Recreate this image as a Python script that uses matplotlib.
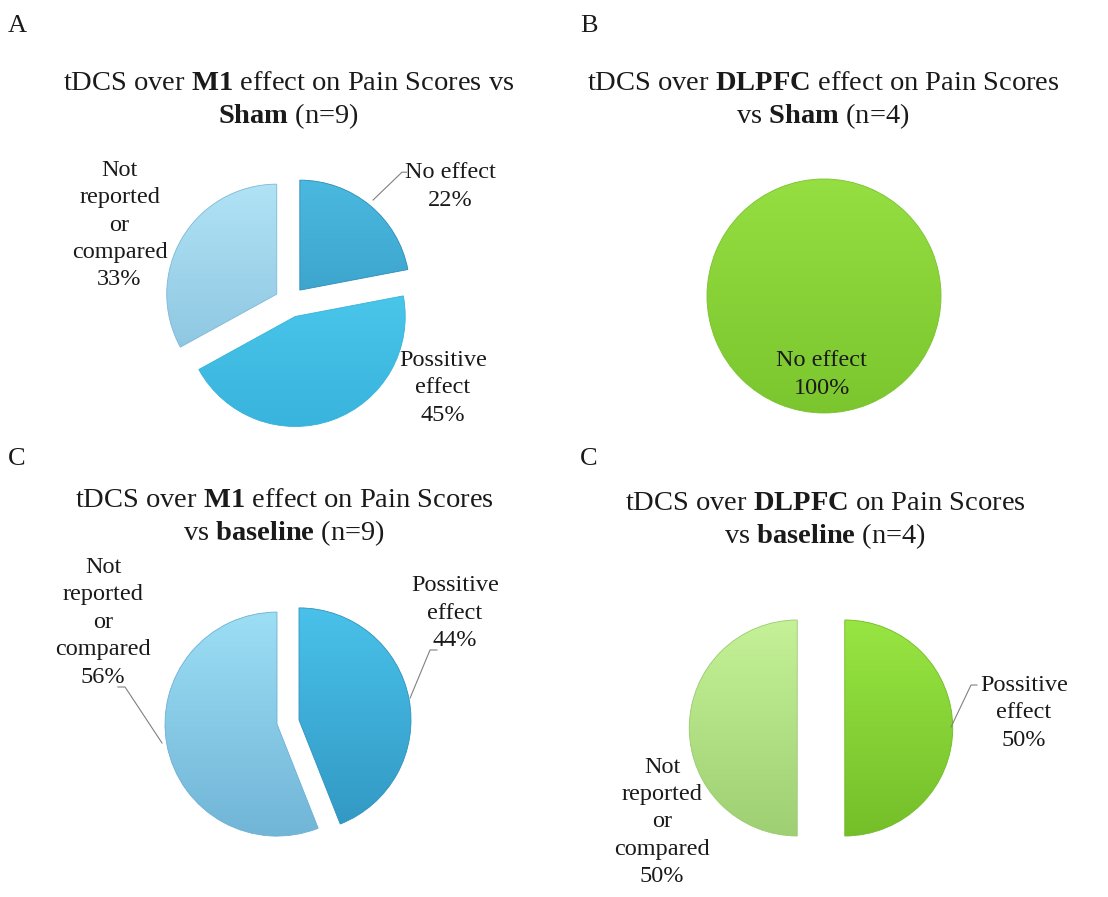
import numpy as np
import matplotlib
matplotlib.use("Agg")
import matplotlib.pyplot as plt
from matplotlib.colors import to_rgb

plt.rcParams["font.family"] = ["Liberation Serif", "DejaVu Serif"]
plt.rcParams["mathtext.fontset"] = "custom"
plt.rcParams["mathtext.rm"] = "Liberation Serif"
plt.rcParams["mathtext.bf"] = "Liberation Serif:bold"

# Data
names_a = ["No effect", "Possitive\neffect", "Not\nreported\nor\ncompared"]
values_a = [22, 45, 33]
names_b = ["No effect"]
values_b = [100]
names_c = ["Possitive\neffect", "Not\nreported\nor\ncompared"]
values_c = [44, 56]
names_d = ["Possitive\neffect", "Not\nreported\nor\ncompared"]
values_d = [50, 50]

titles = [
    r"tDCS over $\mathbf{M1}$ effect on Pain Scores vs" + "\n" + r"$\mathbf{Sham}$ (n=9)",
    r"tDCS over $\mathbf{DLPFC}$ effect on Pain Scores" + "\n" + r"vs $\mathbf{Sham}$ (n=4)",
    r"tDCS over $\mathbf{M1}$ effect on Pain Scores" + "\n" + r"vs $\mathbf{baseline}$ (n=9)",
    r"tDCS over $\mathbf{DLPFC}$ on Pain Scores" + "\n" + r"vs $\mathbf{baseline}$ (n=4)",
]
letters = ["A", "B", "C", "C"]

W, H = 1108, 897
fig = plt.figure(figsize=(W / 100, H / 100), dpi=100)
LIM = 1.8


def pie_axes(cx, cy, r):
    return fig.add_axes([(cx - LIM * r) / W, 1 - (cy + LIM * r) / H,
                         2 * LIM * r / W, 2 * LIM * r / H])


def finish(ax):
    ax.set_xlim(-LIM, LIM)
    ax.set_ylim(-LIM, LIM)
    ax.set_aspect("equal")
    ax.axis("off")


def shade(ax, wedges, tops, bottoms):
    # vertical light-to-dark gradient clipped to each wedge
    t = np.linspace(0, 1, 256)[:, None]
    for w, c1, c2 in zip(wedges, tops, bottoms):
        grad = (1 - t) * np.array(to_rgb(c1)) + t * np.array(to_rgb(c2))
        im = ax.imshow(grad[:, None, :], extent=[-1.6, 1.6, -1.25, 1.25],
                       origin="upper", aspect="auto", zorder=2)
        im.set_clip_path(w)
        w.set_facecolor("none")
        w.set_edgecolor(to_rgb(c2))
        w.set_linewidth(0.6)
        w.set_zorder(3)


def label(ax, text, pos):
    ax.text(pos[0], pos[1], text, ha="center", va="center", fontsize=17.5,
            color="#1a1a1a", linespacing=1.4, zorder=5)


def leader(ax, xs, ys):
    ax.plot(xs, ys, color="#808080", lw=0.8, zorder=4, clip_on=False)


# Panel A
ax = pie_axes(290, 302, 110)
wedges, _ = ax.pie(values_a, startangle=90, counterclock=False,
                   explode=[0.14, 0.14, 0.14])
shade(ax, wedges, ["#4cbbe2", "#5cd8f8", "#b4e6f7"],
      ["#2d8db6", "#36b2dc", "#7db8d8"])
finish(ax)
label(ax, f"{names_a[0]}\n{values_a[0]}%", (1.46, 1.05))
leader(ax, [0.755, 1.018, 1.06], [0.927, 1.18, 1.18])
label(ax, f"{names_a[1]}\n{values_a[1]}%", (1.39, -0.78))
label(ax, f"{names_a[2]}\n{values_a[2]}%", (-1.55, 0.70))

# Panel B
ax = pie_axes(824, 296, 117)
wedges, _ = ax.pie(values_b, startangle=90, counterclock=False)
shade(ax, wedges, ["#98e244"], ["#78c22c"])
finish(ax)
label(ax, f"{names_b[0]}\n{values_b[0]}%", (-0.02, -0.67))

# Panel C
ax = pie_axes(288, 722, 112)
wedges, _ = ax.pie(values_c, startangle=90, counterclock=False,
                   explode=[0.1, 0.1])
shade(ax, wedges, ["#4cc6ee", "#a2e4f8"], ["#2e92be", "#6cb0d4"])
finish(ax)
label(ax, f"{names_c[0]}\n{values_c[0]}%", (1.49, 0.97))
leader(ax, [1.09, 1.268, 1.33], [0.214, 0.643, 0.643])
label(ax, f"{names_c[1]}\n{values_c[1]}%", (-1.65, 0.89))
leader(ax, [-1.125, -1.455, -1.518], [-0.1875, 0.3125, 0.3125])

# Panel D
ax = pie_axes(821, 728, 108)
wedges, _ = ax.pie(values_d, startangle=90, counterclock=False,
                   explode=[0.22, 0.22])
shade(ax, wedges, ["#9cea46", "#caf69c"], ["#70ba26", "#9acb6e"])
finish(ax)
label(ax, f"{names_d[0]}\n{values_d[0]}%", (1.88, 0.14))
leader(ax, [1.204, 1.389, 1.444], [0.009, 0.398, 0.398])
label(ax, f"{names_d[1]}\n{values_d[1]}%", (-1.47, -0.87))

# Titles and panel letters
title_pos = [(289, 101), (823, 101), (284, 518), (825, 521)]
letter_pos = [(8, 26), (580, 26), (8, 459), (580, 459)]
for t, (x, y) in zip(titles, title_pos):
    fig.text(x / W, 1 - y / H, t, ha="center", va="center", fontsize=20.5,
             color="#1a1a1a", linespacing=1.2)
for t, (x, y) in zip(letters, letter_pos):
    fig.text(x / W, 1 - y / H, t, ha="left", va="center", fontsize=19,
             color="#1a1a1a")

fig.savefig("out.png", dpi=100)
